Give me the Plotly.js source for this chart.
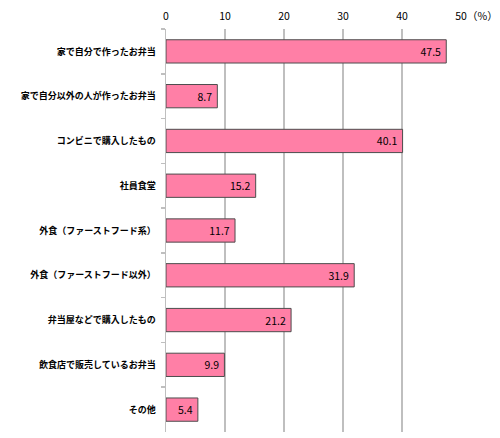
<!DOCTYPE html>
<html>
<head>
<meta charset="utf-8">
<script src="https://cdn.plot.ly/plotly-3.0.1.min.js"></script>
<style>
  body { margin: 0; background: #fff; }
  #chart { width: 500px; height: 438px; }
</style>
</head>
<body>
<div id="chart"></div>
<script>
var categories = [
  "家で自分で作ったお弁当",
  "家で自分以外の人が作ったお弁当",
  "コンビニで購入したもの",
  "社員食堂",
  "外食（ファーストフード系）",
  "外食（ファーストフード以外）",
  "弁当屋などで購入したもの",
  "飲食店で販売しているお弁当",
  "その他"
];
var values = [47.5, 8.7, 40.1, 15.2, 11.7, 31.9, 21.2, 9.9, 5.4];
var tickVals = [0, 10, 20, 30, 40, 50];

var font = "'Noto Sans CJK JP', 'Noto Sans', sans-serif";

var data = [{
  type: 'bar',
  orientation: 'h',
  x: values,
  y: categories,
  // trailing nbsp keeps the label off the bar end
  text: values.map(function (v) { return v.toFixed(1) + '\u00a0'; }),
  textposition: 'inside',
  insidetextanchor: 'end',
  textfont: {family: font, size: 10.5, color: '#000'},
  marker: {color: '#FF7FA6', line: {color: '#4d4d4d', width: 1}},
  hoverinfo: 'none'
}];

var layout = {
  width: 500,
  height: 438,
  margin: {l: 166, r: 39, t: 29, b: 6},
  paper_bgcolor: '#fff',
  plot_bgcolor: '#fff',
  showlegend: false,
  bargap: 0.48,
  font: {family: font, size: 10, color: '#000'},
  xaxis: {
    side: 'top',
    range: [0, 50],
    tickvals: tickVals,
    ticktext: tickVals.map(String),
    showgrid: true,
    gridcolor: '#bfbfbf',
    gridwidth: 1.5,
    zeroline: false,
    showline: false,
    ticks: '',
    ticklabelstandoff: 6,
    tickfont: {family: font, size: 10.5, color: '#000'}
  },
  yaxis: {
    autorange: 'reversed',
    categoryorder: 'array',
    categoryarray: categories,
    showgrid: false,
    zeroline: false,
    showline: true,
    linecolor: '#bfbfbf',
    linewidth: 1.5,
    ticks: 'outside',
    tickson: 'boundaries',
    ticklen: 4,
    tickcolor: '#bfbfbf',
    tickwidth: 1.5,
    ticklabelstandoff: 7,
    tickfont: {family: font, size: 9, color: '#000', weight: 'bold'}
  },
  annotations: [{
    xref: 'paper', yref: 'paper',
    x: 1.0, y: 1,
    xanchor: 'left', yanchor: 'middle',
    yshift: 14, xshift: 4,
    text: '（%）',
    showarrow: false,
    font: {family: font, size: 10.5, color: '#000'}
  }]
};

Plotly.newPlot('chart', data, layout, {displayModeBar: false, staticPlot: true});
</script>
</body>
</html>
